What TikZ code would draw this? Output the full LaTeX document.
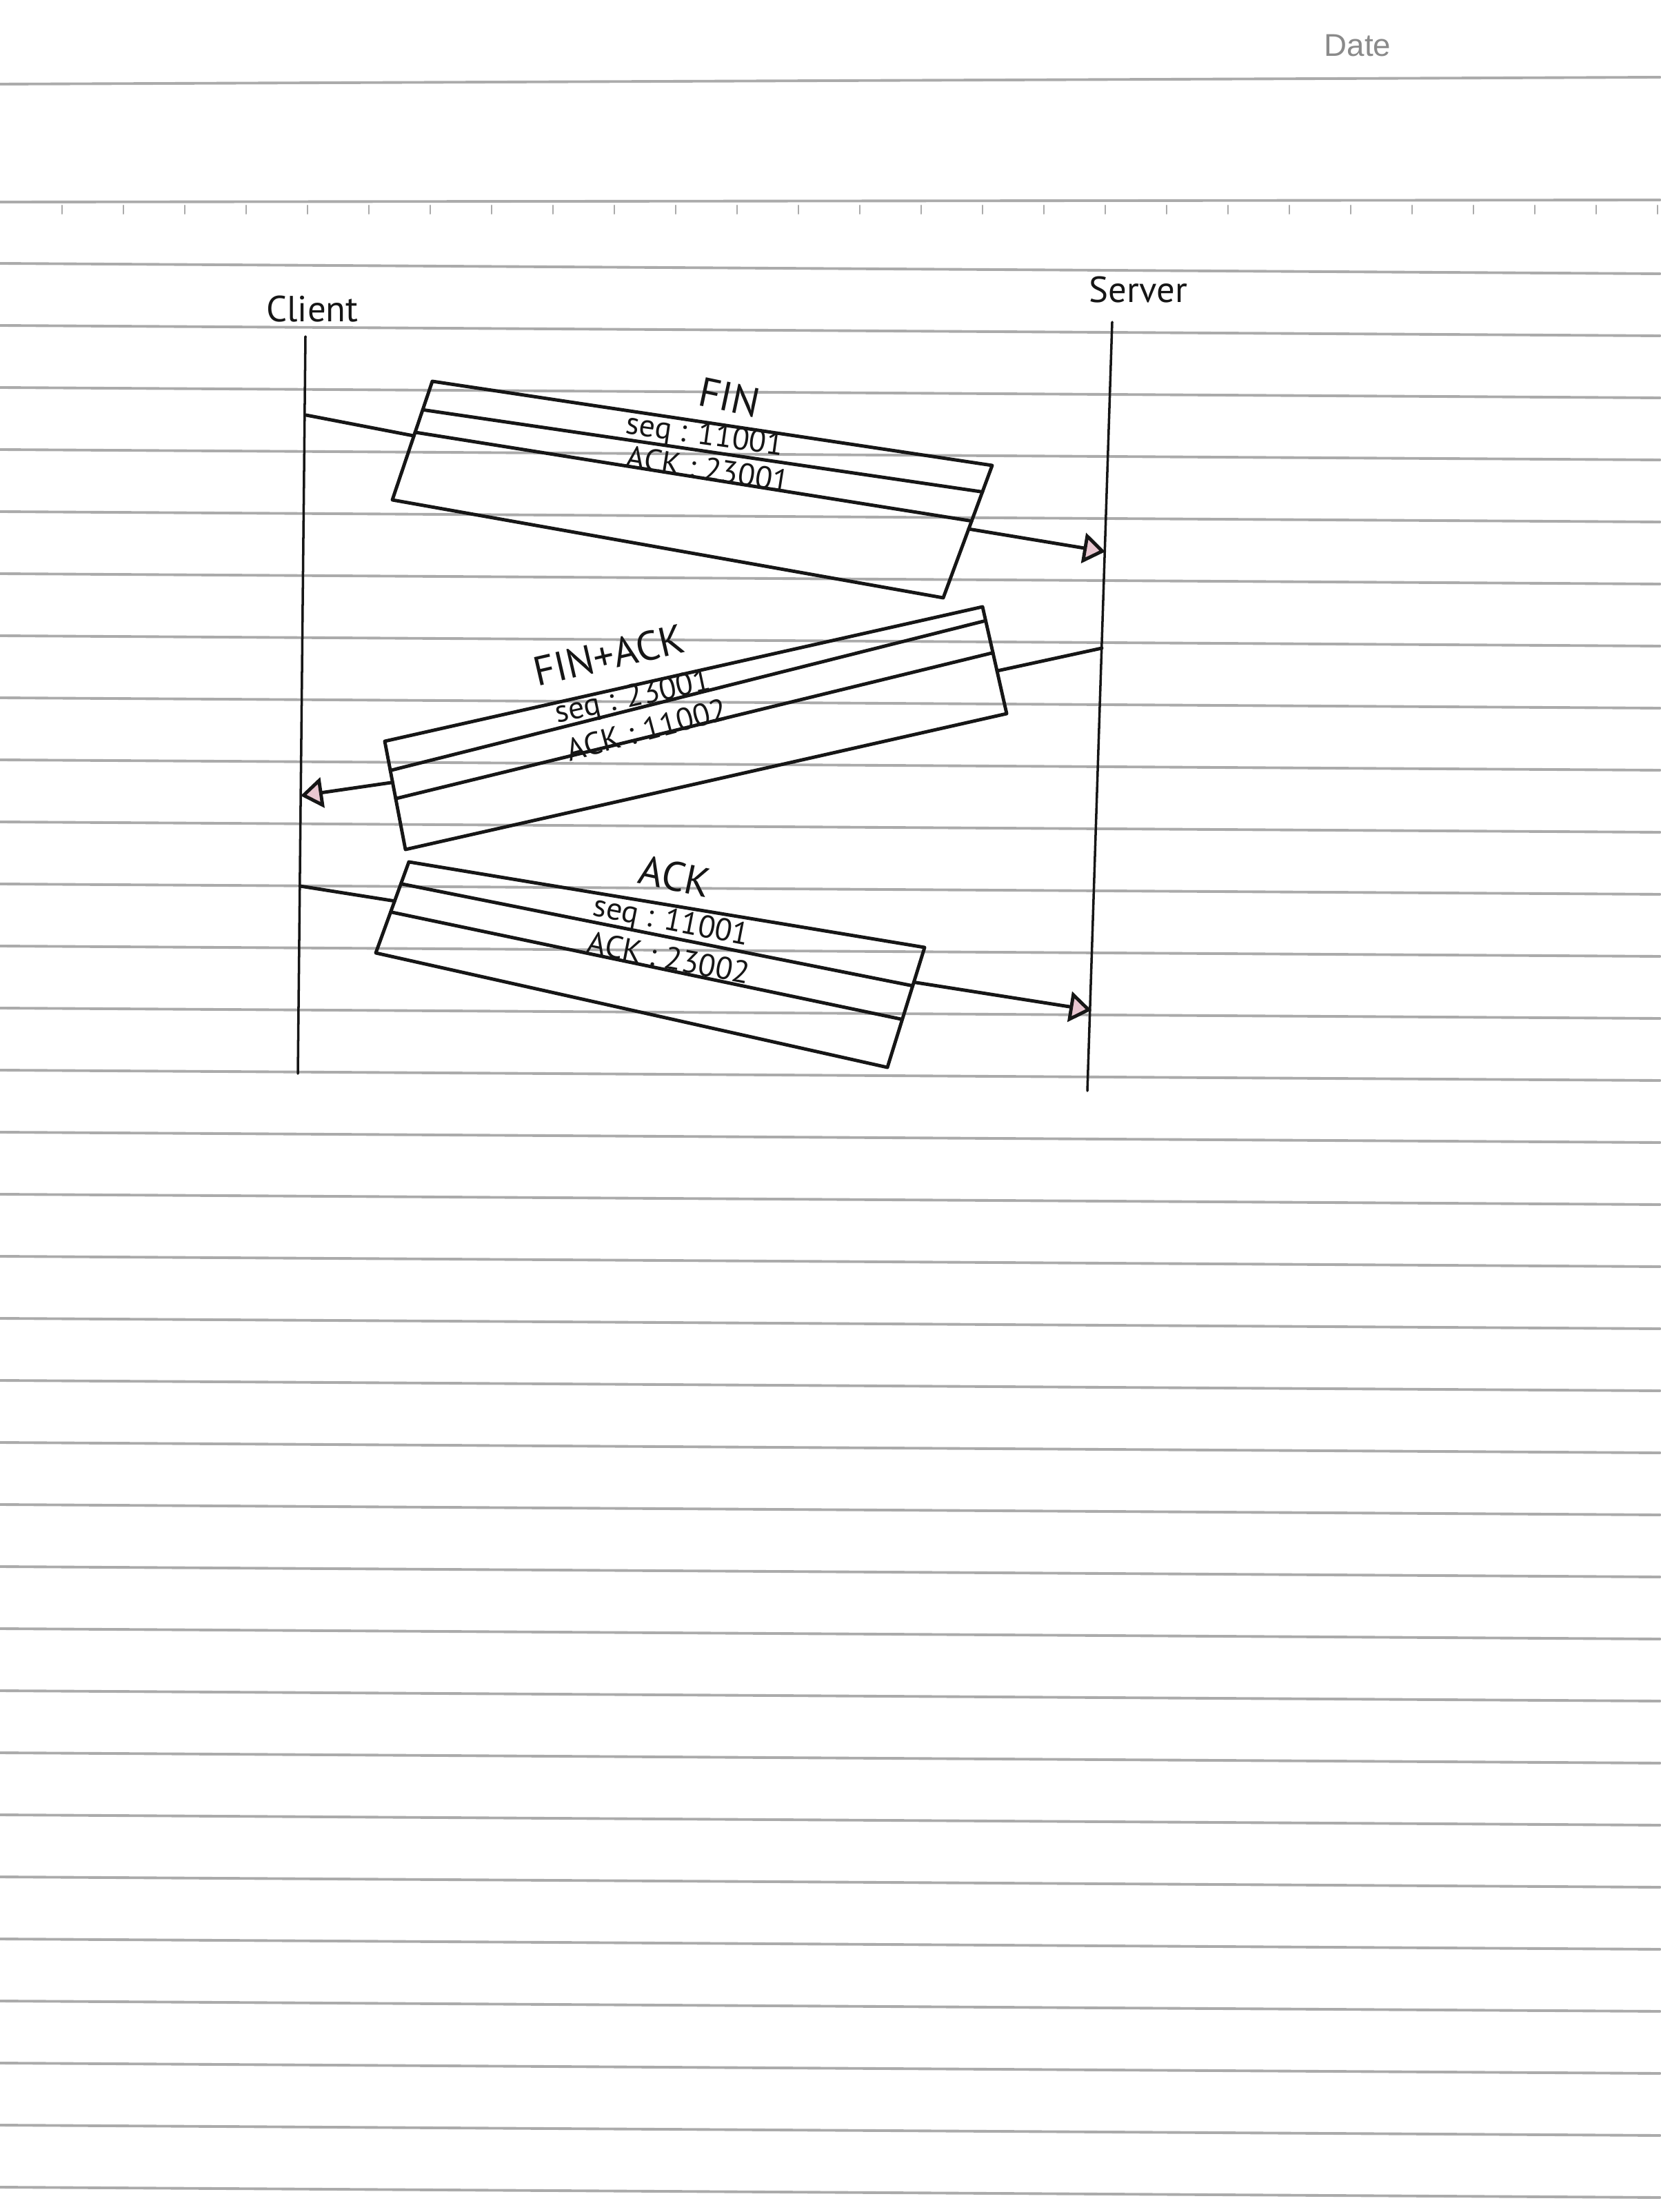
\documentclass[tikz,border=0pt]{standalone}
\usepackage{fontspec}
\setmainfont{PT Sans}
\newfontfamily\datefont{Liberation Sans}
\usetikzlibrary{arrows.meta, calc}
\definecolor{penink}{HTML}{161616}
\definecolor{ruleink}{HTML}{ABABAB}
\definecolor{dateink}{HTML}{8A8A8A}
\definecolor{tipfill}{HTML}{E8C6D0}

\begin{document}
\begin{tikzpicture}[
  x=1cm, y=1cm,
  line cap=round, line join=round,
  rule/.style = {draw=ruleink, line width=1.1pt},
  life/.style = {draw=penink, line width=1.0pt},
  pkt/.style = {draw=penink, line width=1.4pt},
  msg/.style = {draw=penink, line width=1.4pt,
                -{Triangle[length=0.32cm, width=0.44cm, fill=tipfill]}},
  who/.style = {font=\fontsize{15}{17}\selectfont, text=penink, inner sep=0pt},
  kind/.style = {font=\fontsize{17}{19}\selectfont, text=penink, inner sep=0pt},
  fld/.style = {font=\fontsize{13}{15}\selectfont, text=penink, inner sep=0pt}
]

\fill[white] (0,0) rectangle (24.08,-32.08);
\useasboundingbox (0,0) rectangle (24.08,-32.08);

% paper
\node[font=\datefont\fontsize{13}{15}\selectfont, text=dateink] (date) at (19.69,-0.66) {Date};
\draw[rule] (0,-1.22) -- (24.08,-1.12);
\draw[rule] (0,-2.93) -- (24.08,-2.90);
\foreach \k in {0,...,26}
  \draw[ruleink, line width=0.6pt] ({0.9+0.89*\k},-2.98) -- ++(0,-0.12);
\foreach \k in {0,...,31}
  \draw[rule] (0,{-3.82-0.9*\k}) -- (24.08,{-3.97-0.9*\k});

% Client / Server
\node[who] (client) at (4.53,-4.48) {Client};
\node[who] (server) at (16.51,-4.20) {Server};
\coordinate (ctop) at (4.43,-4.88);
\coordinate (cbot) at (4.32,-15.57);
\coordinate (stop) at (16.13,-4.67);
\coordinate (sbot) at (15.77,-15.82);
\draw[life] (ctop) -- (cbot);
\draw[life] (stop) -- (sbot);

% FIN
\coordinate (f1) at (6.27,-5.53);
\coordinate (f2) at (14.39,-6.75);
\coordinate (f3) at (13.68,-8.67);
\coordinate (f4) at (5.69,-7.25);
\coordinate (c1) at (4.44,-6.02);
\coordinate (s1) at (16.03,-8.00);
\draw[pkt] (f1) -- (f2) -- (f3) -- (f4) -- cycle;
\draw[pkt] ($(f1)!0.24!(f4)$) -- ($(f2)!0.20!(f3)$);
\draw[pkt] ($(f1)!0.43!(f4)$) -- ($(f2)!0.42!(f3)$);
\draw[msg] (c1) -- ($(f1)!0.46!(f4)$) ($(f2)!0.48!(f3)$) -- (s1);
\node[kind, rotate=-12] (fin) at (10.58,-5.76) {FIN};
\node[fld, rotate=-8] (fseq) at (10.22,-6.33) {seq : 11001};
\node[fld, rotate=-9] (fack) at (10.27,-6.80) {ACK : 23001};

% FIN+ACK
\coordinate (g1) at (5.58,-10.75);
\coordinate (g2) at (14.25,-8.80);
\coordinate (g3) at (14.60,-10.35);
\coordinate (g4) at (5.88,-12.32);
\coordinate (s2) at (15.98,-9.40);
\coordinate (c2) at (4.36,-11.54);
\draw[pkt] (g1) -- (g2) -- (g3) -- (g4) -- cycle;
\draw[pkt] ($(g1)!0.27!(g4)$) -- ($(g2)!0.13!(g3)$);
\draw[pkt] ($(g1)!0.53!(g4)$) -- ($(g2)!0.43!(g3)$);
\draw[msg] (s2) -- ($(g2)!0.60!(g3)$) ($(g1)!0.38!(g4)$) -- (c2);
\node[kind, rotate=13] (finack) at (8.83,-9.50) {FIN+ACK};
\node[fld, rotate=12] (gseq) at (9.18,-10.13) {seq : 23001};
\node[fld, rotate=15] (gack) at (9.38,-10.58) {ACK : 11002};

% ACK
\coordinate (h1) at (5.93,-12.50);
\coordinate (h2) at (13.41,-13.74);
\coordinate (h3) at (12.87,-15.48);
\coordinate (h4) at (5.45,-13.82);
\coordinate (c3) at (4.35,-12.85);
\coordinate (s3) at (15.83,-14.65);
\draw[pkt] (h1) -- (h2) -- (h3) -- (h4) -- cycle;
\draw[pkt] ($(h1)!0.24!(h4)$) -- ($(h2)!0.32!(h3)$);
\draw[pkt] ($(h1)!0.55!(h4)$) -- ($(h2)!0.60!(h3)$);
\draw[msg] (c3) -- ($(h1)!0.43!(h4)$) ($(h2)!0.29!(h3)$) -- (s3);
\node[kind, rotate=-12] (ack) at (9.79,-12.71) {ACK};
\node[fld, rotate=-11] (hseq) at (9.73,-13.38) {seq : 11001};
\node[fld, rotate=-11] (hack) at (9.70,-13.89) {ACK : 23002};

\end{tikzpicture}
\end{document}
